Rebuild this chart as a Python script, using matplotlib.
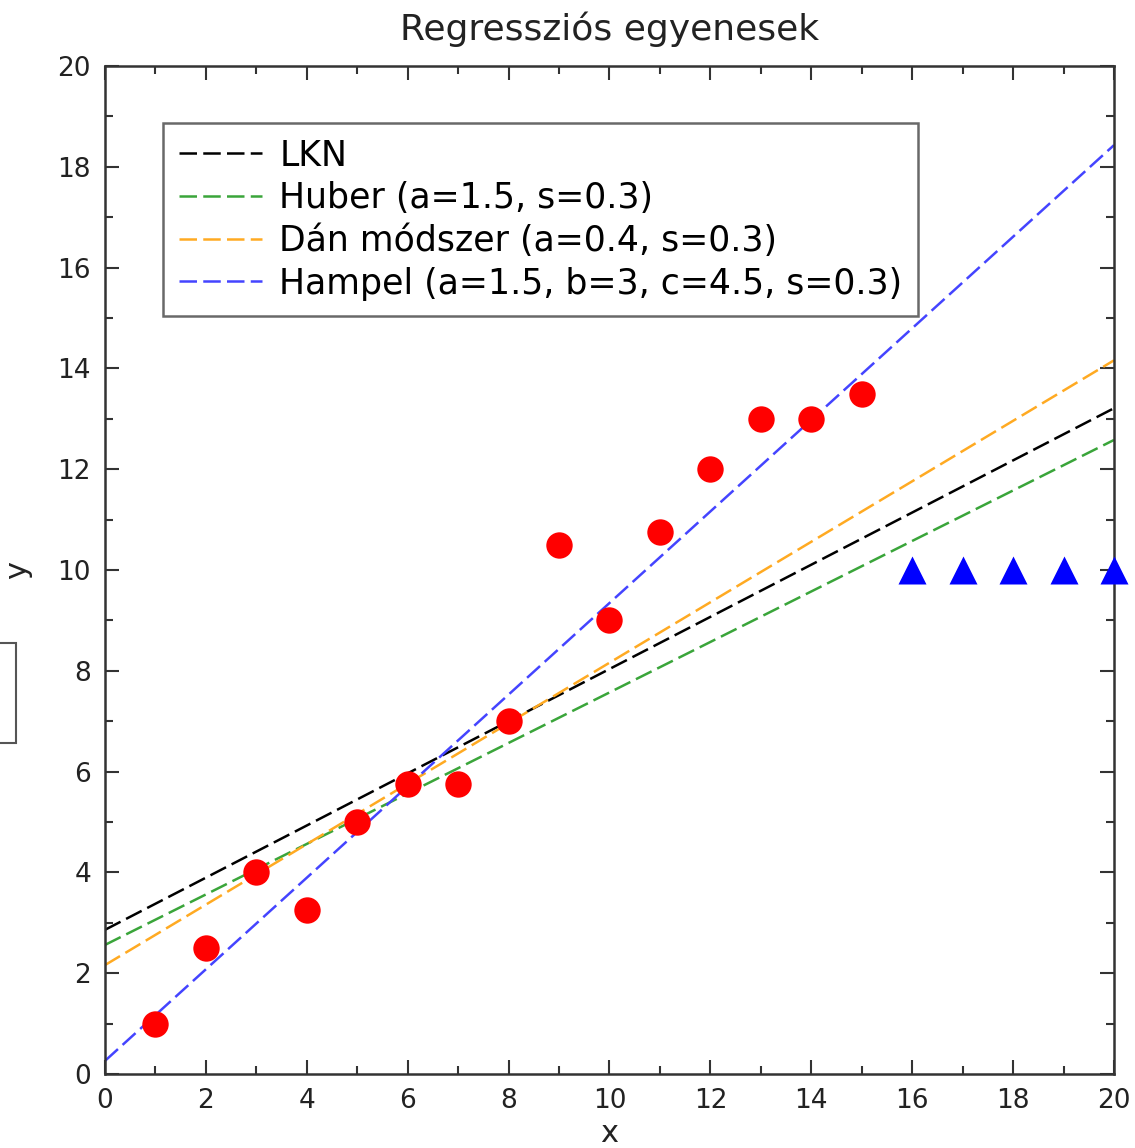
import matplotlib
matplotlib.use("Agg")
import numpy as np
import matplotlib.pyplot as plt
from matplotlib.patches import Rectangle
from matplotlib.ticker import MultipleLocator

# Data
pts_x = [1, 2, 3, 4, 5, 6, 7, 8, 9, 10, 11, 12, 13, 14, 15]
pts_y = [1, 2.5, 4, 3.25, 5, 5.75, 5.75, 7, 10.5, 9, 10.75, 12, 13, 13, 13.5]
out_x = [16, 17, 18, 19, 20]
out_y = [10, 10, 10, 10, 10]

# regression lines: intercept, slope
line_names = ["LKN", "Huber (a=1.5, s=0.3)", "Dán módszer (a=0.4, s=0.3)",
              "Hampel (a=1.5, b=3, c=4.5, s=0.3)"]
intercepts = [2.86, 2.56, 2.16, 0.26]
slopes = [0.5175, 0.501, 0.600, 0.9085]
line_colors = ["black", "#3aa53a", "#ffaa22", "#4444ff"]

fig = plt.figure(figsize=(11.35, 11.48), dpi=100)
ax = fig.add_axes([0.0925, 0.0645, 0.889, 0.878])

xx = np.array([0, 20])
handles = []
for name, b, m, c in zip(line_names, intercepts, slopes, line_colors):
    h, = ax.plot(xx, b + m * xx, color=c, lw=1.8, dashes=(7, 2.5), label=name, zorder=2)
    handles.append(h)

ax.plot(pts_x, pts_y, "o", color="red", ms=19, mec="none", zorder=3, clip_on=False)
ax.plot(out_x, out_y, "^", color="blue", ms=20, mec="none", zorder=3, clip_on=False)

ax.set_xlim(0, 20)
ax.set_ylim(0, 20)
ax.xaxis.set_major_locator(MultipleLocator(2))
ax.yaxis.set_major_locator(MultipleLocator(2))
ax.xaxis.set_minor_locator(MultipleLocator(1))
ax.yaxis.set_minor_locator(MultipleLocator(1))
ax.tick_params(which="both", direction="in", top=True, right=True,
               width=1.5, color="#333333", labelsize=19, pad=10,
               labelcolor="#222222")
ax.tick_params(which="major", length=10)
ax.tick_params(which="minor", length=6)
for s in ax.spines.values():
    s.set_linewidth(1.8)
    s.set_color("#333333")

ax.set_title("Regressziós egyenesek", fontsize=26, color="#222222", pad=19)
ax.set_xlabel("x", fontsize=22, labelpad=4, color="#222222")
ax.set_ylabel("y", fontsize=22, labelpad=18, color="#222222")

leg = ax.legend(handles=handles, loc="upper left", bbox_to_anchor=(0.0575, 0.9435),
                borderaxespad=0, fontsize=25, frameon=True, fancybox=False,
                handlelength=2.4, handletextpad=0.5, labelspacing=0.25,
                borderpad=0.45)
leg.get_frame().set_edgecolor("#444444")
leg.get_frame().set_linewidth(1.8)

# stray box fragment at the left edge of the reference
fig.patches.append(Rectangle((-0.01, 1 - 743 / 1148), 0.024, 100 / 1148,
                             transform=fig.transFigure, fill=False,
                             edgecolor="#555555", lw=1.5))

fig.savefig("out.png", dpi=100)
